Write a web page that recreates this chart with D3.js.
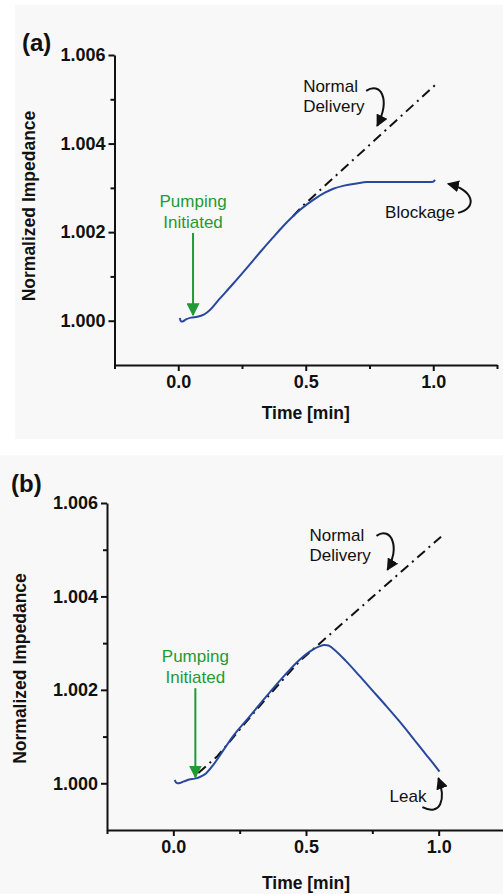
<!DOCTYPE html>
<html>
<head>
<meta charset="utf-8">
<script src="https://cdn.jsdelivr.net/npm/d3@7"></script>
<style>
  body { margin: 0; background: #fff; }
  text { font-family: "Liberation Sans", Arial, sans-serif; }
</style>
</head>
<body>
<div id="chart"></div>
<script>
// panel (a): blockage
const timeA = [0.006, 0.01, 0.016, 0.03, 0.05, 0.075, 0.1, 0.12, 0.16, 0.216, 0.27, 0.32, 0.37, 0.412, 0.45, 0.477, 0.51, 0.543, 0.575, 0.608, 0.65, 0.7, 0.739, 0.8, 0.9, 0.98, 1.0, 1.007];
const impA = [1.00006, 0.99999, 0.99998, 1.00003, 1.00007, 1.00009, 1.00014, 1.00022, 1.00048, 1.00084, 1.0012, 1.00154, 1.00187, 1.00214, 1.00236, 1.0025, 1.00265, 1.00278, 1.00289, 1.00298, 1.00305, 1.0031, 1.00313, 1.00313, 1.00313, 1.00313, 1.00314, 1.00318];
const normalA = [[0.45, 1.00236], [0.484, 1.00257], [1.007, 1.00532]];

// panel (b): leak
const timeB = [0.005, 0.012, 0.02, 0.04, 0.06, 0.08, 0.098, 0.123, 0.15, 0.19, 0.224, 0.28, 0.349, 0.41, 0.475, 0.52, 0.55, 0.569, 0.585, 0.6, 0.65, 0.7, 0.75, 0.8, 0.85, 0.9, 0.95, 0.98, 1.003];
const impB = [1.00007, 1.00001, 1.0, 1.00004, 1.00008, 1.0001, 1.00013, 1.00021, 1.00039, 1.00072, 1.001, 1.00138, 1.00185, 1.00225, 1.00264, 1.00284, 1.00293, 1.00296, 1.00295, 1.00289, 1.00262, 1.00231, 1.00199, 1.00167, 1.00134, 1.00099, 1.00063, 1.00042, 1.00025];
const normalB = [[0.094, 1.00022], [0.166, 1.00058], [0.268, 1.00127], [0.349, 1.00181], [0.475, 1.00261], [0.557, 1.00302], [1.009, 1.00528]];

const xTicks = [0.0, 0.5, 1.0];
const xMinor = [-0.25, 0.25, 0.75, 1.25];
const yTicks = [1.000, 1.002, 1.004, 1.006];
const yMinor = [1.001, 1.003, 1.005];

const W = 503, H = 894;
const svg = d3.select('#chart').append('svg')
  .attr('width', W).attr('height', H);

svg.append('rect').attr('width', W).attr('height', H).attr('fill', '#fff');

const defs = svg.append('defs');
function marker(id, color, size) {
  defs.append('marker')
    .attr('id', id)
    .attr('viewBox', '0 0 10 10')
    .attr('refX', 9).attr('refY', 5)
    .attr('markerUnits', 'userSpaceOnUse')
    .attr('markerWidth', size).attr('markerHeight', size)
    .attr('orient', 'auto')
    .append('path')
    .attr('d', 'M0,0 L10,5 L0,10 Z')
    .attr('fill', color);
}
marker('headBlack', '#111', 12);
marker('headGreen', '#1f9a35', 13);

const BLUE = '#2848a0';
const GREEN = '#1f9a35';

function panel(cfg) {
  svg.append('rect')
    .attr('x', cfg.bg[0]).attr('y', cfg.bg[1])
    .attr('width', cfg.bg[2]).attr('height', cfg.bg[3])
    .attr('fill', '#f8f8f8');

  const x = d3.scaleLinear().domain([-0.25, 1.25]).range(cfg.xr);
  const y = d3.scaleLinear().domain([0.999, 1.006]).range(cfg.yr);
  const g = svg.append('g');

  // minor ticks first
  g.append('g')
    .attr('transform', `translate(0,${cfg.yr[0]})`)
    .call(d3.axisBottom(x).tickValues(xMinor).tickSize(4).tickFormat(''))
    .call(a => a.select('.domain').remove());
  g.append('g')
    .attr('transform', `translate(${cfg.xr[0]},0)`)
    .call(d3.axisLeft(y).tickValues(yMinor).tickSize(4).tickFormat(''))
    .call(a => a.select('.domain').remove());

  const xa = g.append('g')
    .attr('transform', `translate(0,${cfg.yr[0]})`)
    .call(d3.axisBottom(x).tickValues(xTicks).tickSize(6).tickPadding(4)
      .tickSizeOuter(0).tickFormat(d3.format('.1f')));
  const ya = g.append('g')
    .attr('transform', `translate(${cfg.xr[0]},0)`)
    .call(d3.axisLeft(y).tickValues(yTicks).tickSize(6).tickPadding(3)
      .tickSizeOuter(0).tickFormat(d3.format('.3f')));

  g.selectAll('.domain, .tick line').attr('stroke', '#111').attr('stroke-width', 2);
  [xa, ya].forEach(a => a.selectAll('.tick text')
    .attr('font-size', 18).attr('font-weight', 'bold').attr('fill', '#111')
    .style('font-family', '"Liberation Sans", Arial, sans-serif'));

  // axis titles
  g.append('text')
    .attr('x', x(0.5)).attr('y', cfg.xTitleY)
    .attr('text-anchor', 'middle')
    .attr('font-size', 17.5).attr('font-weight', 'bold').attr('fill', '#111')
    .text('Time [min]');
  g.append('text')
    .attr('transform', `translate(${cfg.yTitleX},${(cfg.yr[0] + cfg.yr[1]) / 2 + cfg.yTitleShift}) rotate(-90)`)
    .attr('text-anchor', 'middle')
    .attr('font-size', 17.5).attr('font-weight', 'bold').attr('fill', '#111')
    .text('Normalized Impedance');

  // panel letter
  g.append('text')
    .attr('x', cfg.letter[0]).attr('y', cfg.letter[1])
    .attr('font-size', 24).attr('font-weight', 'bold').attr('fill', '#111')
    .text(cfg.label);

  // normal delivery (dash-dot)
  g.append('path')
    .datum(cfg.normal)
    .attr('d', d3.line().x(d => x(d[0])).y(d => y(d[1])))
    .attr('fill', 'none').attr('stroke', '#111').attr('stroke-width', 2)
    .attr('stroke-dasharray', '10,5,2,5');

  // measured curve
  const pts = d3.zip(cfg.time, cfg.imp);
  g.append('path')
    .datum(pts)
    .attr('d', d3.line().curve(d3.curveMonotoneX).x(d => x(d[0])).y(d => y(d[1])))
    .attr('fill', 'none').attr('stroke', BLUE).attr('stroke-width', 2);

  // pumping initiated
  const [px, py] = [x(cfg.pump[0]), y(cfg.pump[1])];
  g.append('line')
    .attr('x1', px).attr('y1', py + cfg.pumpLen)
    .attr('x2', px).attr('y2', py)
    .attr('stroke', GREEN).attr('stroke-width', 2)
    .attr('marker-end', 'url(#headGreen)');
  g.append('text').attr('x', px).attr('y', py + cfg.pumpLen - 26)
    .attr('text-anchor', 'middle').attr('font-size', 17).attr('fill', GREEN)
    .text('Pumping');
  g.append('text').attr('x', px).attr('y', py + cfg.pumpLen - 5)
    .attr('text-anchor', 'middle').attr('font-size', 17).attr('fill', GREEN)
    .text('Initiated');

  // curved black arrows with labels
  cfg.notes.forEach(n => {
    const tx = x(n.tip[0]), ty = y(n.tip[1]);
    const c = n.curve.map(p => [tx + p[0], ty + p[1]]);
    g.append('path')
      .attr('d', `M${c[0]} C${c[1]} ${c[2]} ${tx},${ty}`)
      .attr('fill', 'none').attr('stroke', '#111').attr('stroke-width', 2)
      .attr('marker-end', 'url(#headBlack)');
    n.lines.forEach((s, i) => {
      g.append('text')
        .attr('x', tx + n.text[0]).attr('y', ty + n.text[1] + i * 20)
        .attr('text-anchor', n.anchor)
        .attr('font-size', 17).attr('fill', '#111')
        .text(s);
    });
  });
}

panel({
  label: '(a)', letter: [22, 51],
  bg: [15, 5, 488, 434],
  xr: [114.5, 497], yr: [365, 55],
  xTitleY: 419, yTitleX: 35, yTitleShift: -4,
  time: timeA, imp: impA, normal: normalA,
  pump: [0.058, 1.00013], pumpLen: -82,
  notes: [
    { tip: [0.78, 1.0044], curve: [[-11, -35], [3, -44], [14, -28]],
      text: [-74, -34], anchor: 'start', lines: ['Normal', 'Delivery'] },
    { tip: [1.058, 1.00309], curve: [[10, 29], [30, 24], [26, 6]],
      text: [7, 34], anchor: 'end', lines: ['Blockage'] }
  ]
});

panel({
  label: '(b)', letter: [11, 492],
  bg: [0, 455, 503, 439],
  xr: [107, 505], yr: [830, 503],
  xTitleY: 889, yTitleX: 26, yTitleShift: 2,
  time: timeB, imp: impB, normal: normalB,
  pump: [0.083, 1.00013], pumpLen: -89,
  notes: [
    { tip: [0.807, 1.00457], curve: [[-11, -34], [4, -44], [13, -22]],
      text: [-78, -29], anchor: 'start', lines: ['Normal', 'Delivery'] },
    { tip: [0.999, 1.00011], curve: [[-16, 29], [2, 38], [8, 22]],
      text: [-12, 24], anchor: 'end', lines: ['Leak'] }
  ]
});
</script>
</body>
</html>
